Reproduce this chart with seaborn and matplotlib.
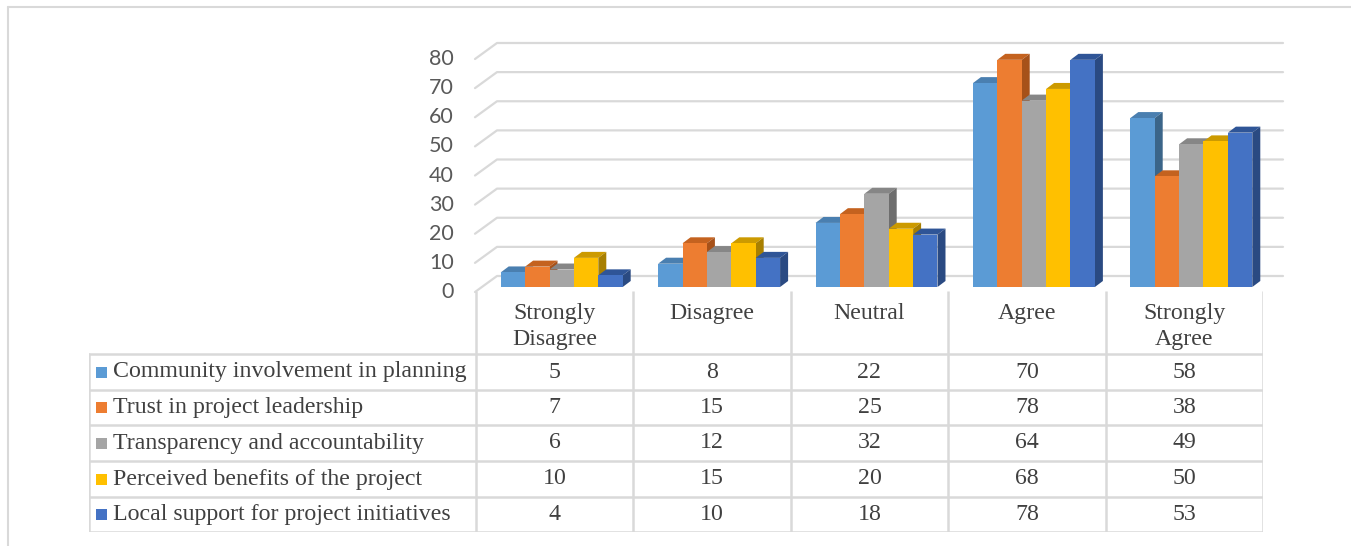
import matplotlib
matplotlib.use("Agg")
import matplotlib.pyplot as plt
from matplotlib.patches import Polygon, Rectangle
from matplotlib.lines import Line2D
import matplotlib.transforms as mtransforms
import seaborn as sns
import pandas as pd

# ---------------- data ----------------
categories = ["Strongly Disagree", "Disagree", "Neutral", "Agree", "Strongly Agree"]
header_labels = ["Strongly\nDisagree", "Disagree", "Neutral", "Agree", "Strongly\nAgree"]
series = [
    "Community involvement in planning",
    "Trust in project leadership",
    "Transparency and accountability",
    "Perceived benefits of the project",
    "Local support for project initiatives",
]
community = [5, 8, 22, 70, 58]
trust = [7, 15, 25, 78, 38]
transparency = [6, 12, 32, 64, 49]
benefits = [10, 15, 20, 68, 50]
local_support = [4, 10, 18, 78, 53]
values = [community, trust, transparency, benefits, local_support]
y_ticks = [0, 10, 20, 30, 40, 50, 60, 70, 80]

front_colors = ["#5B9BD5", "#ED7D31", "#A5A5A5", "#FFC000", "#4472C4"]
top_colors = ["#4A7FB0", "#C4621F", "#868686", "#CC9A00", "#2F5597"]
side_colors = ["#3B6589", "#A65119", "#6E6E6E", "#A87F00", "#2A4A82"]

rows = []
for s, vals in zip(series, values):
    for c, v in zip(categories, vals):
        rows.append({"category": c, "series": s, "value": v})
df = pd.DataFrame(rows)

# ---------------- figure ----------------
W, H = 1351, 546
sns.set_style("white")
fig = plt.figure(figsize=(W / 100, H / 100), dpi=100)
fig.patch.set_facecolor("white")

def fx(px):
    return px / W

def fy(py):
    return 1 - py / H

grid_col = "#D9D9D9"

# outer frame
fig.add_artist(Line2D([fx(8), 1.0], [fy(7), fy(7)], transform=fig.transFigure, color=grid_col, lw=1.5))
fig.add_artist(Line2D([fx(8), fx(8)], [fy(7), 0.0], transform=fig.transFigure, color=grid_col, lw=1.5))

# main axes (shifted slightly right relative to the table columns, as in the reference)
shift = 7
ax_left, ax_right, ax_bot, ax_top = 476 + shift, 1263 + shift, 287, 54
ax = fig.add_axes([fx(ax_left), fy(ax_bot), fx(ax_right - ax_left), (ax_bot - ax_top) / H])
ax.set_facecolor("none")

sns.barplot(data=df, x="category", y="value", hue="series", order=categories,
            hue_order=series, palette=front_colors, width=0.775, dodge=True,
            saturation=1, legend=False, ax=ax, linewidth=0)
ax.set_xlim(-0.5, 4.5)
ax.set_ylim(0, 80)
ax.set_xlabel("")
ax.set_ylabel("")
ax.set_xticks([])
ax.set_yticks([])
for sp in ax.spines.values():
    sp.set_visible(False)

# gridlines (back wall with perspective)
inv = fig.transFigure.inverted()
for v in y_ticks:
    front = mtransforms.offset_copy(ax.transData, fig=fig, x=-1 - shift, y=-5, units="dots")
    back = mtransforms.offset_copy(ax.transData, fig=fig, x=21 - shift, y=11, units="dots")
    backr = mtransforms.offset_copy(ax.transData, fig=fig, x=20 - shift, y=11, units="dots")
    p0 = front.transform((-0.5, v))
    p1 = back.transform((-0.5, v))
    p2 = backr.transform((4.5, v))
    q = inv.transform([p0, p1, p2])
    fig.add_artist(Line2D(q[:, 0], q[:, 1], transform=fig.transFigure, color=grid_col,
                          lw=1.6, zorder=0))
    fig.text(fx(454), q[0, 1], str(v), ha="right", va="center", fontsize=15.5,
             family="Lato", color="#595959")

# 3D faces for bars
dx = 8 * 5.0 / (ax_right - ax_left)
dy = 6 * 80.0 / (ax_bot - ax_top)
n_cat = len(categories)
for i, patch in enumerate(ax.patches):
    si = i // n_cat
    x0 = patch.get_x()
    w = patch.get_width()
    h = patch.get_height()
    x1 = x0 + w
    z = 5 + si
    patch.set_zorder(z + 0.5)
    top = Polygon([(x0, h), (x1, h), (x1 + dx, h + dy), (x0 + dx, h + dy)], closed=True,
                  facecolor=top_colors[si], edgecolor="none", zorder=z)
    side = Polygon([(x1, 0), (x1 + dx, dy), (x1 + dx, h + dy), (x1, h)], closed=True,
                   facecolor=side_colors[si], edgecolor="none", zorder=z)
    ax.add_patch(top)
    ax.add_patch(side)
    top.set_clip_on(False)
    side.set_clip_on(False)

# ---------------- data table ----------------
t_left, t_right, t_top, t_bot = 89, 1263, 291, 532
col_left = 476
tax = fig.add_axes([fx(t_left), fy(t_bot), fx(t_right - t_left), (t_bot - t_top) / H])
col_w = (t_right - col_left) / 5.0
x_left_data = -0.5 - (col_left - t_left) / col_w
tax.set_xlim(x_left_data, 4.5)
tax.set_ylim(t_bot - t_top, 0)
tax.axis("off")

row_edges = [0, 63, 99, 134, 170, 206, 241]
tcol = "#404040"
tlw = 1.8
fs = 17.2
for k in range(6):
    xk = -0.5 + k
    tax.plot([xk, xk], [0, row_edges[-1]], color=grid_col, lw=tlw, solid_capstyle="butt")
tax.plot([x_left_data, x_left_data], [row_edges[1], row_edges[-1]], color=grid_col, lw=tlw)
for yy in row_edges[1:]:
    tax.plot([x_left_data, 4.5], [yy, yy], color=grid_col, lw=tlw)

for k, lab in enumerate(header_labels):
    tax.text(k, 12, lab, ha="center", va="top", fontsize=fs, family="Liberation Serif",
             color=tcol, linespacing=1.3)

sq_px = 11
for r, (s, vals) in enumerate(zip(series, values)):
    yc = (row_edges[r + 1] + row_edges[r + 2]) / 2
    sx = x_left_data + (96 - t_left) / col_w
    tax.add_patch(Rectangle((sx, yc - sq_px / 2), sq_px / col_w, sq_px,
                            facecolor=front_colors[r], edgecolor="none"))
    tax.text(x_left_data + (113 - t_left) / col_w, yc, s, ha="left", va="center",
             fontsize=fs, family="Liberation Serif", color=tcol)
    for k, v in enumerate(vals):
        tax.text(k, yc, str(v), ha="center", va="center", fontsize=fs,
                 family="Liberation Serif", color=tcol)

fig.savefig("out.png", dpi=100, facecolor="white")
